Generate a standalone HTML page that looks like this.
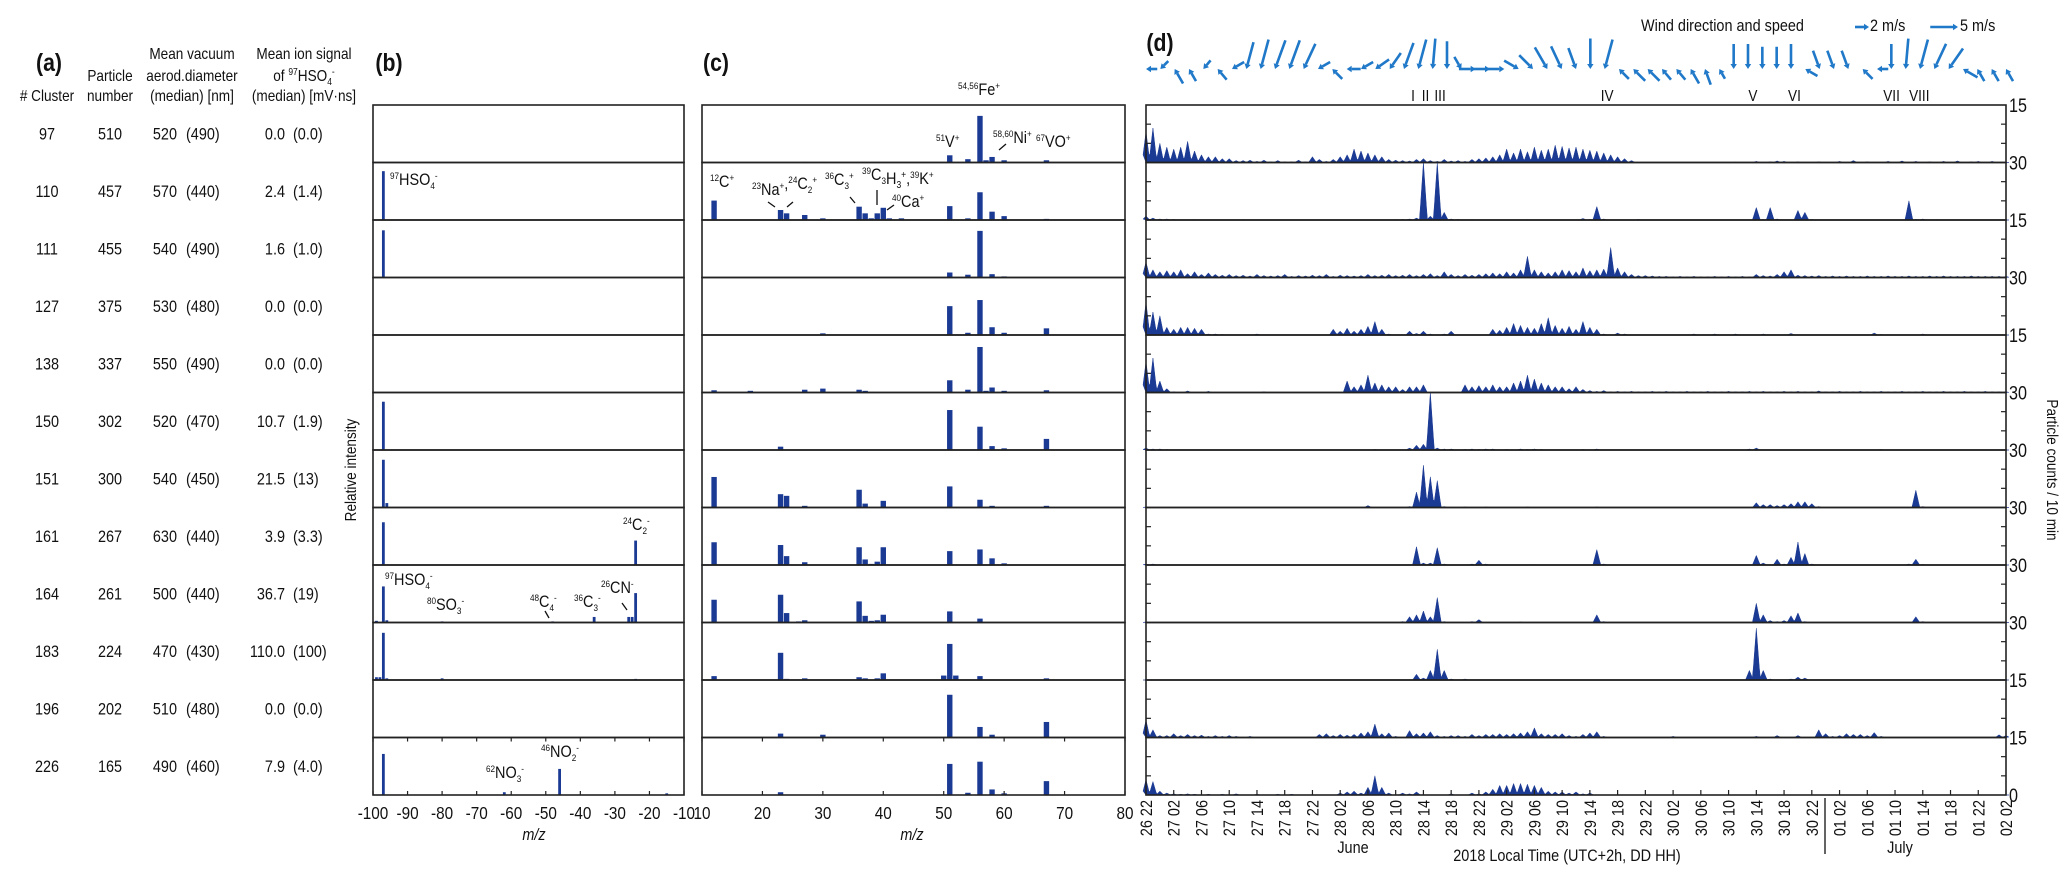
<!DOCTYPE html>
<html><head><meta charset="utf-8">
<style>
html,body{margin:0;padding:0;background:#fff;}
svg{display:block;font-family:"Liberation Sans Narrow","Liberation Sans",sans-serif;}
text{fill:#111;}
</style></head>
<body>
<svg id="fig" width="2067" height="881" viewBox="0 0 2067 881" xmlns="http://www.w3.org/2000/svg">
<g id="gTable"></g>
<g id="gB"></g>
<g id="gC"></g>
<g id="gD"></g>
<g id="gWind"></g>
<g id="gText"></g>
</svg>
<script>
const clusters=[97,110,111,127,138,150,151,161,164,183,196,226];
const particleNumbers=[510,457,455,375,337,302,300,267,261,224,202,165];
const diamMean=[520,570,540,530,550,520,540,630,500,470,510,490];
const diamMedian=[490,440,490,480,490,470,450,440,440,430,480,460];
const ionMean=["0.0","2.4","1.6","0.0","0.0","10.7","21.5","3.9","36.7","110.0","0.0","7.9"];
const ionMedian=["(0.0)","(1.4)","(1.0)","(0.0)","(0.0)","(1.9)","(13)","(3.3)","(19)","(100)","(0.0)","(4.0)"];

const negSpectra=[
 [],
 [[-97,0.88]],
 [[-97,0.85]],
 [],
 [],
 [[-97,0.87]],
 [[-97,0.86],[-96,0.08]],
 [[-97,0.77],[-24,0.44]],
 [[-99,0.03],[-97,0.65],[-96,0.04],[-80,0.02],[-48,0.02],[-36,0.1],[-26,0.1],[-25,0.1],[-24,0.53],[-17,0.01]],
 [[-99,0.05],[-98,0.05],[-97,0.85],[-96,0.03],[-80,0.03],[-24,0.02],[-17,0.01]],
 [],
 [[-97,0.74],[-62,0.05],[-46,0.47],[-15,0.03]]
];
const posSpectra=[
 [[27,0.01],[30,0.01],[51,0.13],[54,0.06],[56,0.84],[57,0.04],[58,0.1],[60,0.04],[67,0.04]],
 [[12,0.35],[23,0.18],[24,0.12],[27,0.09],[30,0.03],[36,0.24],[37,0.12],[38,0.03],[39,0.12],[40,0.22],[41,0.03],[43,0.03],[51,0.25],[54,0.03],[56,0.5],[58,0.15],[60,0.07],[67,0.02]],
 [[51,0.09],[54,0.05],[56,0.84],[58,0.06],[60,0.02]],
 [[30,0.03],[51,0.52],[54,0.04],[56,0.63],[58,0.14],[60,0.04],[67,0.12]],
 [[12,0.04],[18,0.03],[27,0.05],[30,0.07],[36,0.05],[37,0.03],[38,0.01],[51,0.22],[54,0.05],[56,0.82],[57,0.03],[58,0.09],[60,0.03],[67,0.04]],
 [[23,0.06],[51,0.72],[56,0.42],[58,0.07],[60,0.03],[67,0.2]],
 [[12,0.55],[23,0.24],[24,0.21],[27,0.03],[36,0.32],[37,0.07],[40,0.12],[51,0.38],[56,0.14],[58,0.03],[67,0.03]],
 [[12,0.41],[23,0.36],[24,0.16],[27,0.05],[36,0.32],[37,0.1],[38,0.02],[39,0.06],[40,0.32],[51,0.25],[56,0.28],[58,0.12],[60,0.03]],
 [[12,0.41],[23,0.5],[24,0.17],[26,0.02],[27,0.04],[36,0.38],[37,0.12],[38,0.03],[39,0.04],[40,0.14],[51,0.2],[56,0.07]],
 [[12,0.07],[23,0.49],[24,0.02],[27,0.03],[36,0.05],[37,0.03],[39,0.03],[40,0.12],[50,0.08],[51,0.65],[52,0.08],[54,0.01],[56,0.07],[58,0.01],[67,0.03]],
 [[23,0.07],[30,0.05],[51,0.77],[56,0.19],[58,0.05],[67,0.28]],
 [[23,0.05],[51,0.56],[54,0.04],[56,0.6],[58,0.1],[60,0.03],[67,0.25]]
];
const bTicks=[-100,-90,-80,-70,-60,-50,-40,-30,-20,-10];
const cTicks=[10,20,30,40,50,60,70,80];
const timeTicks=["26 22","27 02","27 06","27 10","27 14","27 18","27 22","28 02","28 06","28 10","28 14","28 18","28 22","29 02","29 06","29 10","29 14","29 18","29 22","30 02","30 06","30 10","30 14","30 18","30 22","01 02","01 06","01 10","01 14","01 18","01 22","02 02"];
const rowMax=[15,30,15,30,15,30,30,30,30,30,15,15];
const boundaryLabels=["15","30","15","30","15","30","30","30","30","30","15","15","0"];

const counts97=[8,9,5,4,3.5,4,5.5,3,2,1.5,1.5,1,1,0.5,0.5,0.6,0.3,0.6,0.2,0.5,0.2,0.2,0.6,0.2,1.5,
0.8,0.3,0.8,1.5,2,3.5,3,2.5,2,1.5,0.8,0.6,0.5,0.4,0.8,1,0.5,0.3,0.8,0.4,0.5,0.3,0.8,1,1.2,
1.5,2,3.5,2.5,3.5,2.8,4,3.2,3.5,4.5,4.2,3.8,4,3.5,3.2,3,2.5,2,1.5,1,0.5,0,0,0,0,
0,0,0,0,0,0,0,0,0,0,0.1,0,0,0.3,0,0.2,0.4,0.3,0,0.2,0,0,0.2,0,0,
0.3,0,0.5,0,0.2,0,0,0.3,0,0.4,0,0.3,0,0.2,0,0.3,0,0.4,0,0.2,0.3,0,0.3,0,0];
const counts110=[2,1,0.5,0.5,0.3,0,0,0.2,0,0,0,0,0,0,0.2,0,0,0,0,0,0,0,0,0,0,
0,0,0,0,0,0,0,0,0,0,0,0.2,0.3,0.5,1,30,2,30,4,0.5,0.3,0,0.2,0,0,
0,0,0,0,0,0.2,0,0,0,0,0,0,0,0.8,0.3,7,0.5,0,0,0,0,0.3,0,0,0,
0,0,0,0,0,0,0,0,0,0,0,0,0,6.5,0.3,6.5,0.5,0,0,5,4,0.3,0,0,0,
0,0,0,0,0,0,0,0,0,0,10,0.3,0.5,0,0.2,0,0,0,0,0,0,0,0,0,0];
const counts111=[4,2,1.5,1.8,1.5,2,1,1.5,0.8,1.2,0.8,0.6,0.8,0.5,0.6,0.4,0.8,0.5,0.4,0.5,0.8,0.3,0.5,0.4,0.6,
0.5,0.8,0.3,0.6,0.5,0.4,0.5,0.8,0.5,0.6,0.8,0.5,0.6,0.8,0.5,0.8,1,0.5,1.5,0.8,0.5,0.8,0.6,0.8,1,
1.2,1,1.5,1.2,2,5.5,2,1.5,1.2,1.5,2,1.8,1.5,2.5,1.8,2,2.2,7.8,2.5,1.5,0.8,0.5,0.5,0.4,0.3,
0.3,0.2,0.3,0.2,0.3,0.2,0.2,0.3,0.2,0.3,0.2,0.3,0.2,0.8,0.5,0.4,0.8,1.5,2,0.6,0.5,0.4,0.5,0.3,0.4,
0.3,0.4,0.3,0.3,0.4,0.3,0.3,0.4,0.3,0.3,0.4,0.3,0.3,0.4,0.3,0.4,0.3,0.3,0.3,0.4,0.3,0.3,0.3,0.3,0.3];
const counts127=[17,12,10,4,3,4,4,3.5,3,0.5,0.5,0.3,0,0,0,0,0.5,0,0,0,0,0,0,0,0,
0,0,3,2,3.5,2,3,4.5,7,3,0.5,0,0,2,0.8,2,0.5,0,0.5,2,0,0,0,0,0,
3,2.5,4,6,5,4,3.5,6,9,5,3.5,4.5,3,7,4,3,0.5,0,1,0.5,0,0,0,0,0,
0,0,0,0,0.5,0,0,0.5,0,0,0.5,0,0,0,0.5,0,0,0,0.8,0,0,0,0,0,0,
0,0,0,0,0,1,0.3,0,0,0,0,0,0.5,0,0,0,0,0,0,0,0,0,0,0,0];
const counts138=[8,9,3,1,0.2,0,0.4,0,0,0.3,0,0,0,0,0,0,0,0.2,0,0,0,0,0,0,0,
0,0,0,0,3,1.5,2,4.5,2.5,2,1.5,1.5,0.8,1.5,1.5,2,0,0,0,0,0,2,1.5,1.8,1.5,
2,1.5,1.5,2.5,3,4.5,3.5,2.5,2,1.5,1.5,1,1.5,0.8,0.5,0.3,0.5,0.2,0.3,0.2,0.3,0.2,0.2,0.3,0.2,
0.3,0.2,0.2,0.3,0.2,0.2,0.3,0.2,0.2,0.3,0.2,0.2,0.3,0.2,0.3,0.2,0.2,0.3,0.2,0.3,0.2,0.2,0.4,0.2,0.2,
0.3,0.2,0.2,0.3,0.2,0.2,0.3,0.2,0.2,0.3,0.2,0.2,0.3,0.2,0.2,0.3,0.2,0.2,0.3,0.2,0.2,0.3,0.2,0.2,0.2];
const counts150=[1,0.5,0.5,0.3,0,0,0,0,0,0,0,0,0,0,0,0,0,0,0,0,0,0,0,0,0,
0,0,0,0,0,0,0,0,0.3,0,0,0,0,1,2.5,3,30,1,0.5,0.5,0,0.3,0.5,0.3,0.5,
0.5,0,0.3,0,0.5,0.3,0.5,0.3,0,0,0,0,0,0.3,0,0.5,0,0,0,0,0,0,0,0,0,
0,0,0,0,0,0,0,0,0,0,0,0,0.5,1,0,0,0,0,0,0,0,0,0,0,0,
0,0,0,0,0,0,0.3,0,0,0,0,0,0,0,0,0,0,0,0,0,0,0,0,0,0];
const counts151=[0.3,0,0,0,0,0,0,0,0,0,0,0,0,0,0,0,0,0,0,0,0,0,0,0,0,
0,0,0,0,0,0,0,1,0,0,0,0,0,0.5,8,22,16,14,0.5,0,0,0.3,0,0,0.3,
0,0,0,0,0,0.3,0,0,0,0,0,0,0,0,0,0.3,0,0,0,0,0,0,0,0,0,
0,0,0,0,0,0,0,0,0,0,0,0,0,2.5,1.5,1.5,1,1.5,2,3,3,2,0.5,0,0,
0,0,0,0,0,0,0,0,0,0,0,9,0.5,0,0,0,0,0,0,0,0,0,0,0,0];
const counts161=[0.5,0.5,0,0,0,0,0,0,0,0,0,0,0,0,0,0,0,0,0,0,0,0,0,0,0,
0,0,0,0,0,0,0,0,0,0,0,0,0,0,9.5,1,1,9,0.5,0,0,0,0.5,2.5,0.5,
0,0,0,0,0,0,0.2,0,0,0,0,0,0,0,0,8,0.5,0,0,0,0,0,0,0,0,
0,0,0,0,0,0,0,0,0,0,0,0,0,5,1,0,3,0.5,4,12,6,0.5,0,0,0,
0,0,0,0,0,0,0,0,0,0,0.5,3,0.3,0,0,0,0,0,0,0,0,0,0,0,0];
const counts164=[0.3,0,0,0,0,0,0,0,0,0,0,0,0,0,0,0,0,0,0,0,0,0,0,0,0,
0,0,0,0,0,0,0,0,0,0,0,0,0.5,3,4,6,3,13,0.5,0,0,0,0.5,1.5,0,
0,0,0,0,0.3,0,0,0,0,0,0,0,0,0,0,4,0.5,0,0,0,0,0,0,0,0,
0,0,0,0,0,0,0,0,0,0,0,0,0,10,4,1,0.5,1,3.5,5,0.5,0,0,0,0,
0,0,0,0,0,0,0,0,0,0,0,3,0.5,0,0,0,0,0,0,0,0,0,0,0,0];
const counts183=[0,0,0,0,0,0,0,0,0,0,0,0,0,0,0,0,0,0,0,0,0,0,0,0,0,
0,0,0,0,0,0,0,0,0,0,0,0,0,0,3,1,5,16,5,0.5,0,0.5,0,0,0,
0,0,0,0,0,0,0,0,0,0,0,0,0,0,0,0,0,0,0,0,0,0,0,0,0,
0,0,0,0,0,0,0,0,0,0,0,0,5,27,5,0.5,0,0,0.5,1.5,1,0,0,0,0,
0,0,0,0,0,0,0,0,0,0,0,0,0,0,0,0,0,0,0,0,0,0,0,0,0];
const counts196=[4.5,2,0.5,0.5,1,0.5,0.8,0.5,0.6,0.3,0.5,0.3,0.5,0.3,0,0.3,0,0,0,0,0,0,0,0,0,
0.8,1,0.5,0.8,0.6,0.8,1.2,1.5,3.5,1,1.2,0.3,0,1.8,1,1.2,1.5,0.5,0.3,0.5,0.5,0.3,0.8,0.5,0.8,
0.8,1,0.8,1,1.2,1.5,2.5,1,0.8,0.8,1,0.5,0.3,0.8,1.2,1.5,0.3,0,0,0,0,0,0,0,0,
0,0.3,0,0,0,0,0,0,0,0,0,0,0,0.3,0,0,0.5,0,0,0.5,0,0,2,1,0.3,
0.5,1,0.8,0.8,0.5,1.3,0.3,0,0,0,0,0,0,0,0,0,0,0,0,0,0,0,0,0.7,0.5];
const counts226=[4,3.5,1,0.5,0.3,0.2,0.3,0.2,0,0.2,0,0.2,0,0.3,0,0,0.2,0,0,0.2,0,0.2,0,0,0,
0,0,0,0.5,0.8,1,0.5,2,5,2,0.5,0,0.5,0.3,0.8,0,0,0,0,0.3,0,0,0.5,0.3,0.8,
1.5,2.5,2.5,3,3,2.8,2.5,2,1,0.8,0.8,0.5,0.8,0.3,0.5,0,0,0,0,0,0,0,0,0,0,
0,0,0,0,0,0,0,0,0,0,0,0,0,0,0,0,0,0,0,0,0,0,0,0,0,
0,0,0,0,0,0,0,0,0,0,0,0,0,0,0,0,0,0,0,0,0,0,0,0,0];
const countSeries=[counts97,counts110,counts111,counts127,counts138,counts150,counts151,counts161,counts164,counts183,counts196,counts226];

const windDir=[270,225,330,330,220,320,240,195,195,200,200,205,240,315,270,240,235,215,200,195,185,180,150,90,90,90,120,135,150,155,160,180,195,315,315,315,320,320,330,340,330,180,180,180,180,180,300,160,160,160,315,270,180,185,195,205,215,300,330,330,330];
const windSpeed=[1.5,1.5,2.5,2,1.5,2,2,4.5,5,5,5,4.5,2,2,2,2,2.5,3,4.5,5,5,4.5,2,2.5,2.5,3,2.5,3,4,4,3.5,5,5,2,2.5,2.5,2,2,2.5,2.5,1.5,4,4,3.5,3.5,4,2,3,3,3,2,1.5,4,5,5,4.5,4,2.5,2,2,2];
const romanLabels=["I","II","III","IV","V","VI","VII","VIII"];
const romanHours=[38.5,40.3,42.4,66.5,87.5,93.5,107.5,111.5];

const NS="http://www.w3.org/2000/svg";
const BLUE="#1b3a94";
const SX=0.85;
const TOP=105, RH=57.5, NR=12;
const B0=373,B1=684,C0=702,C1=1125,D0=1146,D1=2006;
const xB=m=>B0+(m+100)/90*(B1-B0);
const xC=m=>C0+(m-10)/70*(C1-C0);
const xD=h=>D0+h/124*(D1-D0);
const rowTop=i=>TOP+i*RH;

function mk(tag,attrs,parent,txt){const e=document.createElementNS(NS,tag);for(const k in attrs)e.setAttribute(k,attrs[k]);if(txt!==undefined)e.textContent=txt;parent.appendChild(e);return e;}
const gT=document.getElementById('gTable'),gB=document.getElementById('gB'),gC=document.getElementById('gC'),gD=document.getElementById('gD'),gW=document.getElementById('gWind'),gX=document.getElementById('gText');

function txt(parent,x,y,s,size,anchor,extra){const t=mk('text',Object.assign({x:x,y:y,'font-size':size||16,'text-anchor':anchor||'middle',transform:'translate('+x+' 0) scale('+SX+' 1) translate('+(-x)+' 0)'},extra||{}),parent);t.innerHTML=s;return t;}
function rtxt(parent,x,y,s,size,anchor,angle){return mk('text',{x:x,y:y,'font-size':size,'text-anchor':anchor,transform:'rotate('+angle+' '+x+' '+y+') translate('+x+' 0) scale('+SX+' 1) translate('+(-x)+' 0)'},parent,s);}

let t;
t=txt(gT,49,71,"(a)",25,'middle',{'font-weight':'bold'});
txt(gT,47,101,"# Cluster",16);
txt(gT,110,81,"Particle",16);txt(gT,110,101,"number",16);
txt(gT,192,59,"Mean vacuum",16);txt(gT,192,81,"aerod.diameter",16);txt(gT,192,101,"(median) [nm]",16);
txt(gT,304,59,"Mean ion signal",16);txt(gT,304,81,'of <tspan font-size="10" dy="-6">97</tspan><tspan dy="6">HSO</tspan><tspan font-size="10" dy="4">4</tspan><tspan font-size="10" dy="-10">-</tspan>',16);txt(gT,304,101,"(median) [mV·ns]",16);
for(let i=0;i<NR;i++){
 const y=rowTop(i)+RH/2+6;
 const r=mk('g',{},gT);
 
 
 txt(r,47,y,String(clusters[i]),17);
 txt(r,110,y,String(particleNumbers[i]),17);
 txt(r,177,y,String(diamMean[i]),17,'end');
 txt(r,186,y,"("+diamMedian[i]+")",17,'start');
 txt(r,285,y,ionMean[i],17,'end');
 txt(r,293,y,ionMedian[i],17,'start');
}

function frame(parent,x0,x1,i,name){const r=mk('rect',{x:x0,y:rowTop(i),width:x1-x0,height:RH,fill:'none',stroke:'#222','stroke-width':1.6},parent);}
const HW=(xD(1)-xD(0))/2;
for(let i=0;i<NR;i++){
 const base=rowTop(i)+RH, ph=RH-2;
 negSpectra[i].forEach(p=>{const h=p[1]*ph;const b=mk('rect',{x:xB(p[0])-1.4,y:base-h,width:2.8,height:h,fill:BLUE},gB);});
 posSpectra[i].forEach(p=>{const h=p[1]*ph;const b=mk('rect',{x:xC(p[0])-2.7,y:base-h,width:5.4,height:h,fill:BLUE},gC);});
 frame(gB,B0,B1,i,'panel-b-row-'+clusters[i]);
 frame(gC,C0,C1,i,'panel-c-row-'+clusters[i]);
 const s=countSeries[i], mx=rowMax[i];
 let pts=xD(0)+","+base;
 s.forEach((v,h)=>{const x=xD(h),y=base-Math.min(v,mx)/mx*RH;
   pts+=" "+(x-HW*0.85).toFixed(2)+","+(base-Math.min(v,mx)/mx*RH*0.25).toFixed(2)+" "+x.toFixed(2)+","+y.toFixed(2)+" "+(x+HW*0.85).toFixed(2)+","+(base-Math.min(v,mx)/mx*RH*0.25).toFixed(2);});
 pts+=" "+xD(s.length-1)+","+base;
 const a=mk('polygon',{points:pts,fill:BLUE,stroke:BLUE,'stroke-width':0.5},gD);
 
 
 frame(gD,D0,D1,i,'panel-d-row-'+clusters[i]);
 [1/3,2/3].forEach(f=>{const y=base-f*RH;mk('line',{x1:D0,x2:D0+5,y1:y,y2:y,stroke:'#222','stroke-width':1.2},gD);mk('line',{x1:D1-5,x2:D1,y1:y,y2:y,stroke:'#222','stroke-width':1.2},gD);});
}
boundaryLabels.forEach((s,k)=>{const e=txt(gD,2009,rowTop(k)+7,s,19,'start');});

const BOT=rowTop(NR);
bTicks.forEach(v=>{mk('line',{x1:xB(v),x2:xB(v),y1:BOT,y2:BOT-4,stroke:'#222','stroke-width':1.2},gB);mk('line',{x1:xB(v),x2:xB(v),y1:BOT-RH,y2:BOT-RH+4,stroke:'#222','stroke-width':1.2},gB);const e=txt(gB,xB(v),819,String(v),18);});
cTicks.forEach(v=>{mk('line',{x1:xC(v),x2:xC(v),y1:BOT,y2:BOT-4,stroke:'#222','stroke-width':1.2},gC);mk('line',{x1:xC(v),x2:xC(v),y1:BOT-RH,y2:BOT-RH+4,stroke:'#222','stroke-width':1.2},gC);const e=txt(gC,xC(v),819,String(v),18);});
timeTicks.forEach((s,k)=>{const x=xD(k*4);mk('line',{x1:x,x2:x,y1:BOT,y2:BOT-5,stroke:'#222','stroke-width':1.2},gD);const e=rtxt(gD,x+6,800,s,17,'end',-90);});

txt(gX,534,840,"m/z",17,'middle',{'font-style':'italic'});
txt(gX,912,840,"m/z",17,'middle',{'font-style':'italic'});
txt(gX,1353,853,"June",17);
txt(gX,1900,853,"July",17);
txt(gX,1567,861,"2018 Local Time (UTC+2h, DD HH)",17);
mk('line',{x1:1825,x2:1825,y1:798,y2:854,stroke:'#222','stroke-width':1.4},gX);
rtxt(gX,356,470,"Relative intensity",16,'middle',-90);
rtxt(gX,2047,470,"Particle counts / 10 min",16,'middle',90);
txt(gX,389,71,"(b)",25,'middle',{'font-weight':'bold'});
txt(gX,716,71,"(c)",25,'middle',{'font-weight':'bold'});
txt(gX,1160,51,"(d)",25,'middle',{'font-weight':'bold'});
romanLabels.forEach((s,k)=>{const e=txt(gX,xD(romanHours[k]),101,s,16);});

const sup=(iso,main,sub,charge,size)=>{size=size||16;let s='<tspan font-size="'+(size*0.6)+'" dy="-6">'+iso+'</tspan><tspan dy="6">'+main+'</tspan>';if(sub)s+='<tspan font-size="'+(size*0.6)+'" dy="4">'+sub+'</tspan><tspan font-size="'+(size*0.6)+'" dy="-10">'+charge+'</tspan><tspan dy="6"></tspan>';else s+='<tspan font-size="'+(size*0.6)+'" dy="-6">'+charge+'</tspan><tspan dy="6"></tspan>';return s;};
txt(gX,390,185,sup("97","HSO","4","-"),17,'start');
txt(gX,623,530,sup("24","C","2","-"),17,'start');
txt(gX,385,585,sup("97","HSO","4","-"),17,'start');
txt(gX,427,610,sup("80","SO","3","-"),17,'start');
txt(gX,530,607,sup("48","C","4","-"),17,'start');
txt(gX,574,607,sup("36","C","3","-"),17,'start');
txt(gX,601,593,sup("26","CN","","-"),17,'start');
txt(gX,541,757,sup("46","NO","2","-"),17,'start');
txt(gX,486,778,sup("62","NO","3","-"),17,'start');
txt(gX,958,95,sup("54,56","Fe","","+"),17,'start');
txt(gX,936,147,sup("51","V","","+"),17,'start');
txt(gX,993,143,sup("58,60","Ni","","+"),17,'start');
txt(gX,1036,147,sup("67","VO","","+"),17,'start');
txt(gX,710,187,sup("12","C","","+"),17,'start');
txt(gX,752,195,sup("23","Na","","+")+","+sup("24","C","2","+"),17,'start');
txt(gX,825,185,sup("36","C","3","+"),17,'start');
txt(gX,862,180,sup("39","C","3","")+'<tspan>H</tspan><tspan font-size="10" dy="4">3</tspan><tspan font-size="10" dy="-10">+</tspan><tspan dy="6">,</tspan>'+sup("39","K","","+"),17,'start');
txt(gX,892,207,sup("40","Ca","","+"),17,'start');
[[545,611,549,618],[622,603,627,610],[999,150,1006,144],[768,202,775,207],[787,207,793,202],[850,197,855,203],[877,190,877,205],[887,210,894,205]].forEach(l=>mk('line',{x1:l[0],y1:l[1],x2:l[2],y2:l[3],stroke:'#111','stroke-width':1.3},gX));

const WC="#1f78c8";
function arrow(parent,xt,yt,deg,spd){
 const L=5.5*spd+3, r=deg*Math.PI/180, dx=Math.sin(r), dy=-Math.cos(r);
 const x0=xt-dx*L, y0=yt-dy*L;
 const hx=xt-dx*5, hy=yt-dy*5, px=-dy, py=dx;
 const g=mk('g',{},parent);
 
 
 mk('line',{x1:x0,y1:y0,x2:hx,y2:hy,stroke:WC,'stroke-width':2.6},g);
 mk('polygon',{points:xt+','+yt+' '+(hx+px*3.2)+','+(hy+py*3.2)+' '+(hx-px*3.2)+','+(hy-py*3.2),fill:WC},g);
}
windDir.forEach((d,k)=>{arrow(gW,xD(k*124/(windDir.length-1)),69,d,windSpeed[k]);});
txt(gW,1641,31,"Wind direction and speed",17,'start');
arrow(gW,1869,27,90,2);txt(gW,1870,31,"2 m/s",17,'start');
arrow(gW,1958,27,90,4.5);txt(gW,1960,31,"5 m/s",17,'start');
</script>
</body></html>
